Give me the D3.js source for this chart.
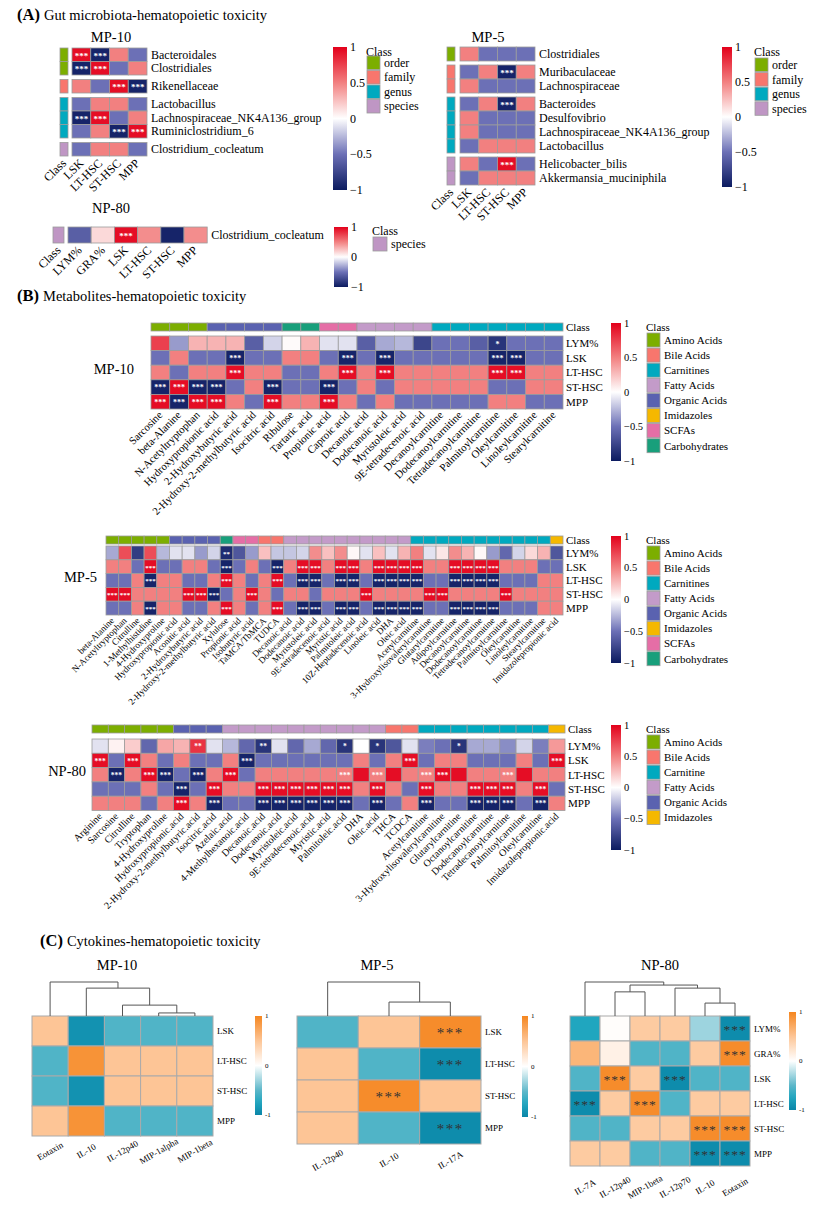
<!DOCTYPE html>
<html>
<head>
<meta charset="utf-8">
<script src="https://cdn.jsdelivr.net/npm/d3@7"></script>
<style>
body { margin: 0; background: #fff; }
svg { font-family: "Liberation Serif", "Times New Roman", serif; }
</style>
</head>
<body>
<svg width="830" height="1205"></svg>
<script>
// ---------------- data: (A) gut microbiota ----------------
const aCells = ["LSK", "LT-HSC", "ST-HSC", "MPP"]

const aMp10Taxa = ["Bacteroidales", "Clostridiales", "Rikenellaceae", "Lactobacillus", "Lachnospiraceae_NK4A136_group", "Ruminiclostridium_6", "Clostridium_cocleatum"]
const aMp10Rank = ["order", "order", "family", "genus", "genus", "genus", "species"]
const aMp10Values = [
    [0.95, -0.95, 0.5, -0.5],
    [-0.95, 0.95, -0.5, 0.5],
    [0.5, -0.5, 0.95, -0.95],
    [-0.5, 0.5, 0.5, -0.5],
    [-0.95, 0.95, -0.5, 0.5],
    [-0.5, 0.5, -0.95, 0.95],
    [-0.5, 0.5, 0.5, -0.5]
]
const aMp10Stars = ["3300", "3300", "0033", "0000", "3300", "0033", "0000"]

const aMp5Taxa = ["Clostridiales", "Muribaculaceae", "Lachnospiraceae", "Bacteroides", "Desulfovibrio", "Lachnospiraceae_NK4A136_group", "Lactobacillus", "Helicobacter_bilis", "Akkermansia_muciniphila"]
const aMp5Rank = ["order", "family", "family", "genus", "genus", "genus", "genus", "species", "species"]
const aMp5Values = [
    [0.5, -0.5, -0.5, -0.5],
    [-0.5, 0.5, -0.95, 0.5],
    [0.5, -0.5, -0.5, -0.5],
    [-0.5, 0.5, -0.95, 0.5],
    [0.5, -0.5, -0.5, -0.5],
    [0.5, -0.5, -0.5, -0.5],
    [-0.5, 0.5, 0.5, 0.5],
    [0.5, -0.5, 0.95, -0.5],
    [-0.5, 0.5, 0.5, 0.5]
]
const aMp5Stars = ["0000", "0030", "0000", "0030", "0000", "0000", "0000", "0030", "0000"]

const aNp80Cells = ["LYM%", "GRA%", "LSK", "LT-HSC", "ST-HSC", "MPP"]
const aNp80Taxa = ["Clostridium_cocleatum"]
const aNp80Rank = ["species"]
const aNp80Values = [[-0.6, 0.15, 0.95, 0.45, -0.95, 0.45]]
const aNp80Stars = ["003000"]

const rankNames = ["order", "family", "genus", "species"]

// ---------------- data: (B) metabolites ----------------
const bRows = ["LYM%", "LSK", "LT-HSC", "ST-HSC", "MPP"]

const bMp10Names = ["Sarcosine", "beta-Alanine", "N-Acetyltryptophan", "Hydroxypropionic acid", "2-Hydroxybutyric acid", "2-Hydroxy-2-methylbutyric acid", "Isocitric acid", "Ribulose", "Tartaric acid", "Propionic acid", "Caproic acid", "Decanoic acid", "Dodecanoic acid", "Myristoleic acid", "9E-tetradecenoic acid", "Decanoylcarnitine", "Dodecanoylcarnitine", "Tetradecanoylcarnitine", "Palmitoylcarnitine", "Oleylcarnitine", "Linoleylcarnitine", "Stearylcarnitine"]
const bMp10Class = ["Amino Acids", "Amino Acids", "Amino Acids", "Organic Acids", "Organic Acids", "Organic Acids", "Organic Acids", "Carbohydrates", "Carbohydrates", "SCFAs", "SCFAs", "Fatty Acids", "Fatty Acids", "Fatty Acids", "Fatty Acids", "Carnitines", "Carnitines", "Carnitines", "Carnitines", "Carnitines", "Carnitines", "Carnitines"]
const bMp10Values = [
    [0.75, -0.35, 0.3, 0.3, 0.3, -0.6, -0.15, 0.02, 0.3, -0.1, -0.1, -0.6, -0.3, -0.25, -0.75, -0.5, -0.5, -0.6, -0.85, -0.5, -0.5, -0.5],
    [-0.5, 0.5, -0.5, -0.5, -0.95, -0.5, -0.5, 0.5, 0.5, -0.5, -0.95, -0.5, -0.95, -0.5, -0.5, -0.5, -0.5, -0.5, -0.95, -0.95, -0.5, -0.5],
    [0.5, -0.5, 0.5, 0.5, 0.95, 0.5, 0.5, -0.5, -0.5, 0.5, 0.95, 0.5, 0.95, 0.5, 0.5, 0.5, 0.5, 0.5, 0.95, 0.95, 0.5, 0.5],
    [-0.95, 0.95, -0.95, -0.95, -0.5, 0.5, -0.95, -0.5, -0.5, -0.95, -0.5, 0.5, -0.5, 0.5, 0.5, 0.5, 0.5, 0.5, -0.5, -0.5, 0.5, 0.5],
    [0.95, -0.95, 0.95, 0.95, 0.5, -0.5, 0.95, 0.5, 0.5, 0.95, 0.5, -0.5, 0.5, -0.5, -0.5, -0.5, -0.5, -0.5, 0.5, 0.5, -0.5, -0.5]
]
const bMp10Stars = ["0000000000000000001000", "0000300000303000003300", "0000300000303000003300", "3333003003000000000000", "3333003003000000000000"]
const bMp10Legend = ["Amino Acids", "Bile Acids", "Carnitines", "Fatty Acids", "Organic Acids", "Imidazoles", "SCFAs", "Carbohydrates"]

const bMp5Names = ["beta-Alanine", "N-Acetyltryptophan", "Citrulline", "1-Methylhistidine", "4-Hydroxyproline", "Hydroxypropionic acid", "Aconitic acid", "2-Hydroxybutyric acid", "2-Hydroxy-2-methylbutyric acid", "Xylulose", "Propionic acid", "Isobutyric acid", "TaMCA/TbMCA", "TUDCA", "Decanoic acid", "Dodecanoic acid", "Myristoleic acid", "9E-tetradecenoic acid", "Myristic acid", "Palmitoleic acid", "10Z-Heptadecenoic acid", "Linoleic acid", "DHA", "Oleic acid", "Acetylcarnitine", "3-Hydroxylisovalerylcarnitine", "Glutarylcarnitine", "Adipoylcarnitine", "Decanoylcarnitine", "Dodecanoylcarnitine", "Tetradecanoylcarnitine", "Palmitoylcarnitine", "Oleylcarnitine", "Linoleylcarnitine", "Stearylcarnitine", "Imidazolepropionic acid"]
const bMp5Class = ["Amino Acids", "Amino Acids", "Amino Acids", "Amino Acids", "Amino Acids", "Organic Acids", "Organic Acids", "Organic Acids", "Organic Acids", "Carbohydrates", "SCFAs", "SCFAs", "Bile Acids", "Bile Acids", "Fatty Acids", "Fatty Acids", "Fatty Acids", "Fatty Acids", "Fatty Acids", "Fatty Acids", "Fatty Acids", "Fatty Acids", "Fatty Acids", "Fatty Acids", "Carnitines", "Carnitines", "Carnitines", "Carnitines", "Carnitines", "Carnitines", "Carnitines", "Carnitines", "Carnitines", "Carnitines", "Carnitines", "Imidazoles"]
const bMp5Values = [
    [-0.3, 0.7, -0.8, 0.7, -0.25, -0.1, -0.1, -0.35, -0.15, -0.9, -0.65, -0.35, 0.25, -0.2, -0.2, -0.15, 0.45, 0.25, 0.45, 0.03, -0.1, 0.25, -0.1, 0.3, 0.5, -0.1, 0.1, 0.45, 0.3, 0.03, -0.35, -0.55, -0.15, 0.15, 0.3, -0.65],
    [0.5, 0.5, -0.5, 0.95, -0.5, -0.5, 0.5, 0.5, -0.5, -0.95, -0.5, 0.5, -0.5, -0.95, 0.5, 0.95, 0.95, 0.5, 0.95, 0.95, 0.5, 0.95, 0.95, 0.95, 0.95, 0.5, 0.5, 0.95, 0.95, 0.95, 0.95, 0.5, 0.5, 0.5, -0.5, -0.5],
    [-0.5, -0.5, 0.5, -0.95, 0.5, 0.5, -0.5, -0.5, 0.5, 0.95, 0.5, -0.5, 0.5, 0.95, -0.5, -0.95, -0.95, -0.5, -0.95, -0.95, -0.5, -0.95, -0.95, -0.95, -0.95, -0.5, -0.5, -0.95, -0.95, -0.95, -0.95, -0.5, -0.5, -0.5, 0.5, 0.5],
    [0.95, 0.95, 0.5, 0.5, 0.5, 0.5, 0.95, 0.95, -0.95, -0.5, 0.5, 0.95, 0.5, -0.5, 0.5, 0.5, -0.5, 0.5, 0.5, 0.5, 0.95, 0.5, 0.5, 0.5, 0.5, 0.95, 0.95, 0.5, 0.5, 0.5, 0.5, 0.95, 0.5, 0.5, 0.5, 0.5],
    [-0.5, -0.5, 0.5, -0.95, 0.5, 0.5, -0.5, -0.5, 0.5, 0.95, 0.5, -0.5, 0.5, 0.95, -0.5, -0.95, -0.95, -0.5, -0.95, -0.95, -0.5, -0.95, -0.95, -0.95, -0.95, -0.5, -0.5, -0.95, -0.95, -0.95, -0.95, -0.5, -0.5, -0.5, 0.5, 0.5]
]
const bMp5Stars = [
    "000000000200000000000000000000000000",
    "000300000300030330330333300333300000",
    "000300000300030330330333300333300000",
    "330000333003000000003000033000030000",
    "000300000300030330330333300333300000"
]

const bNp80Names = ["Arginine", "Sarcosine", "Citrulline", "Tryptophan", "4-Hydroxyproline", "Hydroxypropionic.acid", "2-Hydroxy-2-methylbutyric.acid", "Isocitric.acid", "Azelaic.acid", "4-Methylhexanoic.acid", "Decanoic.acid", "Dodecanoic.acid", "Myristoleic.acid", "9E-tetradecenoic.acid", "Myristic.acid", "Palmitoleic.acid", "DHA", "Oleic.acid", "THCA", "TCDCA", "Acetylcarnitine", "3-Hydroxylisovalerylcarnitine", "Glutarylcarnitine", "Octanoylcarnitine", "Dodecanoylcarnitine", "Tetradecanoylcarnitine", "Palmitoylcarnitine", "Oleylcarnitine", "Imidazolepropionic.acid"]
const bNp80Class = ["Amino Acids", "Amino Acids", "Amino Acids", "Amino Acids", "Amino Acids", "Organic Acids", "Organic Acids", "Organic Acids", "Fatty Acids", "Fatty Acids", "Fatty Acids", "Fatty Acids", "Fatty Acids", "Fatty Acids", "Fatty Acids", "Fatty Acids", "Fatty Acids", "Fatty Acids", "Bile Acids", "Bile Acids", "Carnitine", "Carnitine", "Carnitine", "Carnitine", "Carnitine", "Carnitine", "Carnitine", "Carnitine", "Imidazoles"]
const bNp80Values = [
    [-0.1, 0.05, 0.2, -0.55, 0.35, 0.3, 0.8, -0.1, -0.25, -0.55, -0.85, -0.1, -0.55, -0.3, -0.55, -0.85, 0.0, -0.85, -0.65, -0.1, -0.45, -0.5, -0.85, -0.3, -0.3, -0.4, -0.15, -0.45, 0.4],
    [0.95, -0.5, 0.95, 0.5, -0.5, 0.5, -0.5, -0.5, 0.5, -0.95, -0.5, -0.5, -0.5, -0.5, -0.5, -0.5, 0.5, -0.5, 0.5, 0.95, -0.5, 0.5, 0.5, -0.5, -0.5, -0.5, 0.5, -0.5, 0.95],
    [0.5, -0.95, 0.5, 0.95, -0.95, -0.5, -0.95, 0.5, 0.95, -0.5, 0.5, 0.5, 0.5, 0.5, 0.5, 0.5, 0.95, 0.5, 0.95, 0.5, 0.5, 0.95, 0.95, 0.5, 0.5, 0.5, 0.95, 0.5, 0.5],
    [-0.5, -0.5, -0.5, 0.5, -0.5, -0.95, -0.5, 0.95, 0.5, 0.5, 0.95, 0.95, 0.95, 0.95, 0.95, 0.95, 0.5, 0.95, 0.5, -0.5, 0.95, 0.5, 0.5, 0.95, 0.95, 0.95, 0.5, 0.95, -0.5],
    [0.5, 0.5, 0.5, -0.5, 0.5, 0.95, 0.5, -0.95, -0.5, -0.5, -0.95, -0.95, -0.95, -0.95, -0.95, -0.95, -0.5, -0.95, -0.5, 0.5, -0.95, -0.5, -0.5, -0.95, -0.95, -0.95, -0.5, -0.95, 0.5]
]
const bNp80Stars = [
    "00000020002000010100001000000",
    "30300000030000000003000000003",
    "03033030300000030300330003000",
    "00000303003333330300300333030",
    "00000303003333330300300333030"
]
const bNp80Legend = ["Amino Acids", "Bile Acids", "Carnitine", "Fatty Acids", "Organic Acids", "Imidazoles"]

// ---------------- data: (C) cytokines ----------------
const cMp10Cytokines = ["Eotaxin", "IL-10", "IL-12p40", "MIP-1alpha", "MIP-1beta"]
const cMp10Cells = ["LSK", "LT-HSC", "ST-HSC", "MPP"]
const cMp10Values = [
    [0.5, -0.9, -0.55, -0.55, -0.55],
    [-0.55, 0.9, 0.5, 0.5, 0.5],
    [-0.55, -0.9, 0.5, 0.5, 0.5],
    [0.5, 0.9, -0.55, -0.55, -0.55]
]
const cMp10Stars = ["00000", "00000", "00000", "00000"]
const cMp10Tree = {h: 1, children: [
    {name: "Eotaxin"},
    {h: 0.82, children: [
        {name: "IL-10"},
        {h: 0.32, children: [
            {name: "IL-12p40"},
            {h: 0.09, children: [{name: "MIP-1alpha"}, {name: "MIP-1beta"}]}
        ]}
    ]}
]}

const cMp5Cytokines = ["IL-12p40", "IL-10", "IL-17A"]
const cMp5Cells = ["LSK", "LT-HSC", "ST-HSC", "MPP"]
const cMp5Values = [
    [-0.55, 0.5, 0.95],
    [0.5, -0.55, -0.95],
    [0.5, 0.95, 0.5],
    [0.5, -0.55, -0.95]
]
const cMp5Stars = ["003", "003", "030", "003"]
const cMp5Tree = {h: 1, children: [
    {name: "IL-12p40"},
    {h: 0.41, children: [{name: "IL-10"}, {name: "IL-17A"}]}
]}

const cNp80Cytokines = ["IL-7A", "IL-12p40", "MIP-1beta", "IL-12p70", "IL-10", "Eotaxin"]
const cNp80Cells = ["LYM%", "GRA%", "LSK", "LT-HSC", "ST-HSC", "MPP"]
const cNp80Values = [
    [-0.75, 0.02, 0.45, 0.45, -0.3, -0.95],
    [0.62, 0.12, -0.55, -0.55, 0.45, 0.95],
    [-0.55, 0.95, 0.45, -0.95, -0.55, -0.55],
    [-0.95, 0.45, 0.95, -0.55, 0.45, 0.45],
    [-0.55, -0.55, 0.45, 0.45, 0.95, 0.95],
    [0.45, 0.45, -0.55, -0.55, -0.95, -0.95]
]
const cNp80Stars = ["000003", "000003", "030300", "303000", "000033", "000033"]
const cNp80Tree = {h: 1, children: [
    {name: "IL-7A"},
    {h: 0.91, children: [
        {h: 0.71, children: [{name: "IL-12p40"}, {name: "MIP-1beta"}]},
        {h: 0.82, children: [
            {name: "IL-12p70"},
            {h: 0.38, children: [{name: "IL-10"}, {name: "Eotaxin"}]}
        ]}
    ]}
]}

// ---------------- colours ----------------
const redBlue = d3.scaleLinear()
    .domain([-1, -0.5, 0, 0.5, 1])
    .range(["#0c1b60", "#6c70b6", "#ffffff", "#f28080", "#e3001b"])
    .clamp(true)

const tealOrange = d3.scaleLinear()
    .domain([-1, -0.75, -0.5, 0, 0.5, 1])
    .range(["#0a85a7", "#20a6bf", "#5cb7c9", "#ffffff", "#fdc596", "#f5861f"])
    .clamp(true)

const rankColours = {order: "#7cae00", family: "#f8766d", genus: "#00a9bf", species: "#bf96c4"}
const metabColours = {
    "Amino Acids": "#7cae00", "Bile Acids": "#f8766d", "Carnitines": "#00a9bf", "Carnitine": "#00a9bf",
    "Fatty Acids": "#c39bc9", "Organic Acids": "#5a62b0", "Imidazoles": "#f5b800",
    "SCFAs": "#e56ea6", "Carbohydrates": "#189f7b"
}

const svg = d3.select("svg")
const defs = svg.append("defs")
const grid = "#9c9c9c"

// ---------------- helpers ----------------
function panelTitle(x, y, letter, text) {
    const t = svg.append("text").attr("x", x).attr("y", y).attr("font-size", 14.5)
    t.append("tspan").attr("font-weight", "bold").attr("font-size", 16.5).text(letter)
    t.append("tspan").attr("dx", 4).text(text)
}

function colourBar(id, scale, x, y, w, h, ticks, font, minus) {
    const grad = defs.append("linearGradient").attr("id", id)
        .attr("x1", 0).attr("y1", 1).attr("x2", 0).attr("y2", 0)
    grad.selectAll("stop")
        .data(d3.range(0, 1.001, 0.05))
        .enter()
        .append("stop")
        .attr("offset", d => d)
        .attr("stop-color", d => scale(d * 2 - 1))
    svg.append("rect")
        .attr("x", x).attr("y", y).attr("width", w).attr("height", h)
        .attr("fill", `url(#${id})`)
    const s = d3.scaleLinear().domain([-1, 1]).range([y + h, y])
    svg.append("g")
        .selectAll("text")
        .data(ticks)
        .enter()
        .append("text")
        .attr("x", x + w + 3)
        .attr("y", d => s(d))
        .attr("dy", "0.35em")
        .attr("font-size", font)
        .text(d => d < 0 ? minus + Math.abs(d) : d)
}

// title baseline at y, first swatch top at y + lead
function classLegend(x, y, lead, names, colours, font, sw, sh, step) {
    svg.append("text").attr("x", x).attr("y", y).attr("font-size", font).text("Class")
    const items = svg.append("g")
        .selectAll("g")
        .data(names)
        .enter()
        .append("g")
        .attr("transform", (d, i) => `translate(${x + 1}, ${y + lead + i * step})`)
    items.append("rect")
        .attr("width", sw).attr("height", sh)
        .attr("fill", d => colours[d])
        .attr("stroke", grid).attr("stroke-width", 0.8)
    items.append("text")
        .attr("x", sw + 4).attr("y", sh / 2).attr("dy", "0.35em")
        .attr("font-size", font)
        .text(d => d)
}

function stars(n) {
    return "*".repeat(n)
}

// (A) one taxa heatmap, rows split by rank
function drawTaxa(c) {
    const g = svg.append("g")
    const x = d3.scaleBand().domain(c.cells).range([c.heatX, c.heatX + c.cells.length * c.cellW])
    const band = d3.scaleBand().domain(d3.range(c.taxa.length)).range([c.top, c.top + c.taxa.length * c.rowH])
    let grp = 0
    const shift = c.rank.map((r, i) => {
        if (i > 0 && r != c.rank[i - 1]) grp++
        return grp * c.gap
    })
    const y = i => band(i) + shift[i]
    const bottom = y(c.taxa.length - 1) + c.rowH

    const rows = g.selectAll("g.taxon")
        .data(c.taxa)
        .enter()
        .append("g")
        .attr("class", "taxon")
        .attr("transform", (d, i) => `translate(0, ${y(i)})`)

    rows.append("rect")
        .attr("x", c.classX).attr("width", c.classW).attr("height", c.rowH)
        .attr("fill", (d, i) => rankColours[c.rank[i]])
        .attr("stroke", grid).attr("stroke-width", 0.8)

    const cells = rows.selectAll("g.cell")
        .data((d, i) => c.values[i].map((v, j) => ({v: v, s: +c.stars[i][j], cell: c.cells[j]})))
        .enter()
        .append("g")
        .attr("class", "cell")

    cells.append("rect")
        .attr("x", d => x(d.cell)).attr("width", x.bandwidth()).attr("height", c.rowH)
        .attr("fill", d => redBlue(d.v))
        .attr("stroke", grid).attr("stroke-width", 0.8)

    cells.filter(d => d.s > 0)
        .append("text")
        .attr("x", d => x(d.cell) + x.bandwidth() / 2)
        .attr("y", c.rowH / 2 + c.starSize * 0.42)
        .attr("text-anchor", "middle")
        .attr("font-size", c.starSize)
        .attr("font-weight", "bold")
        .attr("fill", "#fff")
        .text(d => stars(d.s))

    rows.append("text")
        .attr("x", x.range()[1] + 4)
        .attr("y", c.rowH / 2)
        .attr("dy", "0.35em")
        .attr("font-size", c.font)
        .text(d => d)

    const labels = ["Class"].concat(c.cells)
    g.selectAll("text.col")
        .data(labels)
        .enter()
        .append("text")
        .attr("class", "col")
        .attr("transform", (d, i) => {
            const cx = i == 0 ? c.classX + c.classW / 2 : x(d) + x.bandwidth() / 2
            return `translate(${cx}, ${bottom + 5}) rotate(-45)`
        })
        .attr("text-anchor", "end")
        .attr("dy", "0.35em")
        .attr("font-size", c.font)
        .text(d => d)

    g.append("text")
        .attr("x", c.titleX).attr("y", c.titleY)
        .attr("text-anchor", "middle")
        .attr("font-size", 14.5)
        .text(c.title)
}

// (B) metabolite heatmap with a class bar on top
function drawMetab(c) {
    const g = svg.append("g")
    const x = d3.scaleBand().domain(c.names).range([c.left, c.right])
    const y = d3.scaleBand().domain(bRows).range([c.rowTop, c.rowTop + bRows.length * c.rowH])
    const bottom = y.range()[1]

    g.selectAll("rect.class")
        .data(c.names)
        .enter()
        .append("rect")
        .attr("class", "class")
        .attr("x", d => x(d)).attr("y", c.classTop)
        .attr("width", x.bandwidth()).attr("height", c.classH)
        .attr("fill", (d, i) => metabColours[c.classes[i]])
        .attr("stroke", grid).attr("stroke-width", 0.8)

    const rows = g.selectAll("g.row")
        .data(bRows)
        .enter()
        .append("g")
        .attr("class", "row")
        .attr("transform", d => `translate(0, ${y(d)})`)

    const cells = rows.selectAll("g.cell")
        .data((d, i) => c.values[i].map((v, j) => ({v: v, s: +c.stars[i][j], name: c.names[j]})))
        .enter()
        .append("g")
        .attr("class", "cell")

    cells.append("rect")
        .attr("x", d => x(d.name)).attr("width", x.bandwidth()).attr("height", y.bandwidth())
        .attr("fill", d => redBlue(d.v))
        .attr("stroke", grid).attr("stroke-width", 0.8)

    cells.filter(d => d.s > 0)
        .append("text")
        .attr("x", d => x(d.name) + x.bandwidth() / 2)
        .attr("y", y.bandwidth() / 2 + c.starSize * 0.42)
        .attr("text-anchor", "middle")
        .attr("font-size", c.starSize)
        .attr("font-weight", "bold")
        .attr("fill", "#fff")
        .text(d => stars(d.s))

    g.append("text")
        .attr("x", c.right + 3).attr("y", c.classTop + c.classH / 2).attr("dy", "0.35em")
        .attr("font-size", 11).text("Class")

    rows.append("text")
        .attr("x", c.right + 3).attr("y", y.bandwidth() / 2).attr("dy", "0.35em")
        .attr("font-size", 11)
        .text(d => d)

    g.selectAll("text.col")
        .data(c.names)
        .enter()
        .append("text")
        .attr("class", "col")
        .attr("transform", d => `translate(${x(d) + x.bandwidth() / 2}, ${bottom + 4}) rotate(-45)`)
        .attr("text-anchor", "end")
        .attr("dy", "0.35em")
        .attr("font-size", c.labelFont)
        .text(d => d)

    g.append("text")
        .attr("x", c.titleX).attr("y", (c.rowTop + bottom) / 2 - 4).attr("dy", "0.35em")
        .attr("text-anchor", "end")
        .attr("font-size", 14.5)
        .text(c.title)
}

// (C) cytokine heatmap with column dendrogram
function drawCytokines(c) {
    const g = svg.append("g")
    const x = d3.scaleBand().domain(c.cytokines).range([c.left, c.right])
    const y = d3.scaleBand().domain(c.cells).range([c.top, c.bottom])

    const rows = g.selectAll("g.row")
        .data(c.cells)
        .enter()
        .append("g")
        .attr("class", "row")
        .attr("transform", d => `translate(0, ${y(d)})`)

    const cells = rows.selectAll("g.cell")
        .data((d, i) => c.values[i].map((v, j) => ({v: v, s: +c.stars[i][j], name: c.cytokines[j]})))
        .enter()
        .append("g")
        .attr("class", "cell")

    cells.append("rect")
        .attr("x", d => x(d.name)).attr("width", x.bandwidth()).attr("height", y.bandwidth())
        .attr("fill", d => tealOrange(d.v))
        .attr("stroke", "#aaa").attr("stroke-width", 1)

    cells.filter(d => d.s > 0)
        .append("text")
        .attr("x", d => x(d.name) + x.bandwidth() / 2)
        .attr("y", y.bandwidth() / 2 + c.starSize * 0.42)
        .attr("text-anchor", "middle")
        .attr("font-size", c.starSize)
        .attr("letter-spacing", c.starGap)
        .attr("fill", "#333")
        .text(d => stars(d.s))

    rows.append("text")
        .attr("x", c.right + 4).attr("y", y.bandwidth() / 2).attr("dy", "0.35em")
        .attr("font-size", 9)
        .text(d => d)

    g.selectAll("text.col")
        .data(c.cytokines)
        .enter()
        .append("text")
        .attr("class", "col")
        .attr("transform", d => `translate(${x(d) + x.bandwidth() / 2}, ${c.bottom + c.labelDrop}) rotate(-30)`)
        .attr("text-anchor", "middle")
        .attr("dy", "0.35em")
        .attr("font-size", 9)
        .text(d => d)

    // dendrogram
    const hy = d3.scaleLinear().domain([0, 1]).range([c.top, c.top - 34])
    const root = d3.hierarchy(c.tree)
    root.eachAfter(n => {
        if (!n.children) {
            n.px = x(n.data.name) + x.bandwidth() / 2
            n.py = c.top
        } else {
            n.px = d3.mean(n.children, k => k.px)
            n.py = hy(n.data.h)
        }
    })
    g.selectAll("path.link")
        .data(root.descendants().filter(n => n.children))
        .enter()
        .append("path")
        .attr("class", "link")
        .attr("d", n => {
            const a = n.children[0], b = n.children[1]
            return `M${a.px},${a.py}V${n.py}H${b.px}V${b.py}`
        })
        .attr("fill", "none")
        .attr("stroke", "#555")
        .attr("stroke-width", 1)

    g.append("text")
        .attr("x", c.titleX).attr("y", 970)
        .attr("text-anchor", "middle")
        .attr("font-size", 14.5)
        .text(c.title)
}

// ---------------- (A) ----------------
panelTitle(17, 20, "(A)", "Gut microbiota-hematopoietic toxicity")

drawTaxa({
    taxa: aMp10Taxa, rank: aMp10Rank, cells: aCells, values: aMp10Values, stars: aMp10Stars,
    classX: 60, classW: 8, heatX: 72, cellW: 18.75, top: 48, rowH: 13.5, gap: 4.5,
    font: 12, starSize: 9, title: "MP-10", titleX: 111, titleY: 42
})
colourBar("ga1", redBlue, 333, 47, 14, 143, [1, 0.5, 0, -0.5, -1], 12, "\u2212")
classLegend(366, 56, 0, rankNames, rankColours, 12, 13, 13.5, 14.5)

drawTaxa({
    taxa: aMp5Taxa, rank: aMp5Rank, cells: aCells, values: aMp5Values, stars: aMp5Stars,
    classX: 447, classW: 8, heatX: 460, cellW: 18.75, top: 47, rowH: 14, gap: 4,
    font: 12, starSize: 9, title: "MP-5", titleX: 488, titleY: 42
})
colourBar("ga2", redBlue, 722, 47, 10, 140, [1, 0.5, 0, -0.5, -1], 12, "\u2212")
classLegend(754, 56, 2, rankNames, rankColours, 12, 13, 13.5, 14.6)

drawTaxa({
    taxa: aNp80Taxa, rank: aNp80Rank, cells: aNp80Cells, values: aNp80Values, stars: aNp80Stars,
    classX: 53, classW: 11, heatX: 68, cellW: 23.2, top: 227, rowH: 16, gap: 0,
    font: 12, starSize: 9, title: "NP-80", titleX: 111, titleY: 213
})
colourBar("ga3", redBlue, 334, 227, 14, 60, [1, 0, -1], 12, "\u2212")
classLegend(372, 235, 2, ["species"], rankColours, 12, 14, 14, 14.5)

// ---------------- (B) ----------------
panelTitle(17, 301, "(B)", "Metabolites-hematopoietic toxicity")

const bPanels = [
    {names: bMp10Names, classes: bMp10Class, values: bMp10Values, stars: bMp10Stars, legend: bMp10Legend,
     left: 151, right: 563, classTop: 323, rowTop: 336, rowH: 14.6, barH: 138,
     title: "MP-10", titleX: 134, labelFont: 10.8, starSize: 8},
    {names: bMp5Names, classes: bMp5Class, values: bMp5Values, stars: bMp5Stars, legend: bMp10Legend,
     left: 106, right: 563, classTop: 536, rowTop: 546, rowH: 13.8, barH: 127,
     title: "MP-5", titleX: 97, labelFont: 9.1, starSize: 7},
    {names: bNp80Names, classes: bNp80Class, values: bNp80Values, stars: bNp80Stars, legend: bNp80Legend,
     left: 92, right: 565, classTop: 725, rowTop: 739, rowH: 14.3, barH: 125,
     title: "NP-80", titleX: 86, labelFont: 10, starSize: 7.5}
]
bPanels.forEach((p, k) => {
    p.classH = 8
    drawMetab(p)
    colourBar("gb" + k, redBlue, 611, p.classTop, 10, p.barH, [1, 0.5, 0, -0.5, -1], 10.5, "\u2212")
    classLegend(646, p.classTop + 8, 2, p.legend, metabColours, 11, 13, 14, 15.1)
})

// ---------------- (C) ----------------
panelTitle(40, 946, "(C)", "Cytokines-hematopoietic toxicity")

drawCytokines({
    cytokines: cMp10Cytokines, cells: cMp10Cells, values: cMp10Values, stars: cMp10Stars, tree: cMp10Tree,
    left: 32, right: 213, top: 1016, bottom: 1136, labelDrop: 15, title: "MP-10", titleX: 117,
    starSize: 15, starGap: 1.5
})
colourBar("gc1", tealOrange, 255, 1016, 7, 99, [1, 0, -1], 7, "-")

drawCytokines({
    cytokines: cMp5Cytokines, cells: cMp5Cells, values: cMp5Values, stars: cMp5Stars, tree: cMp5Tree,
    left: 297, right: 481, top: 1016, bottom: 1144, labelDrop: 16, title: "MP-5", titleX: 377,
    starSize: 15, starGap: 1.5
})
colourBar("gc2", tealOrange, 522, 1016, 6, 101, [1, 0, -1], 7, "-")

drawCytokines({
    cytokines: cNp80Cytokines, cells: cNp80Cells, values: cNp80Values, stars: cNp80Stars, tree: cNp80Tree,
    left: 570, right: 750, top: 1016, bottom: 1166, labelDrop: 21, title: "NP-80", titleX: 660,
    starSize: 13.5, starGap: 1
})
colourBar("gc3", tealOrange, 789, 1012, 7, 98, [1, 0, -1], 7, "-")
</script>
</body>
</html>
